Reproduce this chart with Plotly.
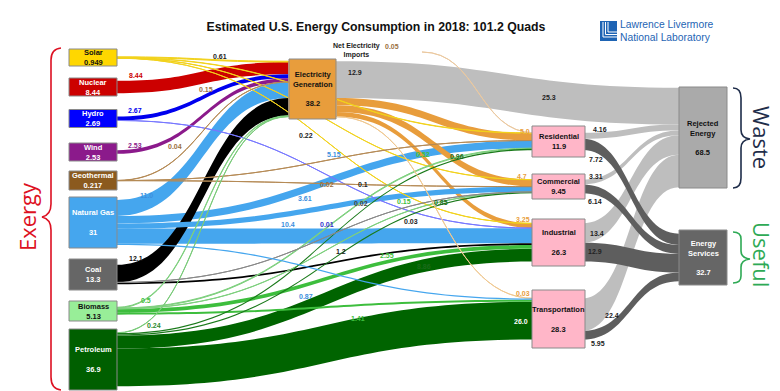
import plotly.graph_objects as go

# ---------------- data ----------------
node_names = ["Solar", "Nuclear", "Hydro", "Wind", "Geothermal", "Natural Gas", "Coal",
              "Biomass", "Petroleum", "Net Electricity Imports", "Electricity Generation",
              "Residential", "Commercial", "Industrial", "Transportation",
              "Rejected Energy", "Energy Services"]
node_totals = ["0.949", "8.44", "2.69", "2.53", "0.217", "31", "13.3", "5.13", "36.9", "0.05",
               "38.2", "11.9", "9.45", "26.3", "28.3", "68.5", "32.7"]

link_source = ["Electricity Generation", "Residential", "Commercial", "Industrial", "Transportation",
               "Residential", "Commercial", "Industrial", "Transportation",
               "Natural Gas", "Natural Gas", "Natural Gas", "Coal", "Petroleum", "Petroleum",
               "Nuclear", "Hydro", "Wind", "Biomass", "Biomass",
               "Electricity Generation", "Electricity Generation", "Electricity Generation",
               "Natural Gas", "Coal",
               "Solar", "Solar", "Solar", "Solar", "Hydro",
               "Geothermal", "Geothermal", "Geothermal",
               "Biomass", "Biomass", "Biomass", "Petroleum", "Petroleum", "Petroleum",
               "Coal", "Electricity Generation", "Net Electricity Imports", "Natural Gas"]
link_target = ["Rejected Energy", "Rejected Energy", "Rejected Energy", "Rejected Energy", "Rejected Energy",
               "Energy Services", "Energy Services", "Energy Services", "Energy Services",
               "Electricity Generation", "Industrial", "Residential", "Electricity Generation",
               "Transportation", "Industrial",
               "Electricity Generation", "Electricity Generation", "Electricity Generation",
               "Industrial", "Transportation",
               "Residential", "Commercial", "Industrial",
               "Commercial", "Industrial",
               "Electricity Generation", "Residential", "Commercial", "Industrial", "Industrial",
               "Electricity Generation", "Residential", "Commercial",
               "Electricity Generation", "Residential", "Commercial",
               "Electricity Generation", "Residential", "Commercial",
               "Commercial", "Transportation", "Residential", "Transportation"]
link_value = [25.3, 4.16, 3.31, 13.4, 22.4,
              7.72, 6.14, 12.9, 5.95,
              11.0, 10.4, 5.15, 12.1, 26.0, 8.86,
              8.44, 2.67, 2.53, 2.55, 1.41,
              5.0, 4.7, 3.25,
              3.61, 1.2,
              0.61, 0.22, 0.1, 0.03, 0.01,
              0.15, 0.04, 0.02,
              0.5, 0.52, 0.15, 0.24, 0.96, 0.85,
              0.02, 0.03, 0.05, 0.87]

# value labels: (text, x_px, y_px, colour)
value_labels = [
    ("0.61", 212, 49, "#222"), ("8.44", 128, 68, "#CC0000"), ("2.67", 127, 103, "#0000EE"),
    ("2.53", 127, 137, "#8B1A8B"), ("0.15", 198, 82, "#9A7040"), ("0.04", 167, 138, "#9A7040"),
    ("11.0", 138, 188, "#3D8FDD"), ("12.1", 128, 250, "#111"), ("0.5", 138, 292, "#3DBE3D"),
    ("0.24", 146, 317, "#2E8B2E"), ("0.05", 384, 38, "#9A7040"), ("12.9", 347, 64, "#222"),
    ("25.3", 541, 89, "#222"), ("0.22", 298, 127, "#222"), ("5.15", 326, 146, "#3D8FDD"),
    ("0.52", 415, 146, "#3DBE3D"), ("0.96", 449, 148, "#1A6B1A"), ("0.02", 319, 176, "#9A7040"),
    ("0.1", 355, 176, "#222"), ("3.61", 297, 190, "#3D8FDD"), ("0.15", 396, 193, "#3DBE3D"),
    ("0.85", 433, 194, "#1A6B1A"), ("0.02", 353, 196, "#444"), ("10.4", 280, 216, "#3D8FDD"),
    ("0.01", 319, 216, "#3333CC"), ("0.03", 403, 213, "#222"), ("1.2", 333, 243, "#222"),
    ("2.55", 379, 247, "#3DBE3D"), ("8.86", 416, 258, "#1A6B1A"), ("0.87", 298, 288, "#3D8FDD"),
    ("1.41", 350, 310, "#3DBE3D"), ("26.0", 513, 313, "#FFFFFF"), ("5.0", 517, 123, "#E89D3C"),
    ("4.7", 514, 169, "#E89D3C"), ("3.25", 515, 211, "#E89D3C"), ("0.03", 515, 285, "#E89D3C"),
    ("4.16", 592, 121, "#222"), ("7.72", 588, 151, "#222"), ("3.31", 588, 168, "#222"),
    ("6.14", 587, 193, "#222"), ("13.4", 589, 225, "#222"), ("12.9", 587, 243, "#222"),
    ("22.4", 604, 307, "#222"), ("5.95", 590, 335, "#222"),
]

# ---------------- layout / style ----------------
W, H = 780, 391
ML, MR, MT, MB = 61, 61, 38, 8
PW, PH = W - ML - MR, H - MT - MB

# node box centres and sizes in pixels (layout, not data)
node_box = {
    "Solar": (85, 49.5, 48, 17), "Nuclear": (85, 79, 48, 18), "Hydro": (85, 110.5, 48, 18),
    "Wind": (85, 144, 48, 18), "Geothermal": (85, 172.5, 48, 19), "Natural Gas": (85, 214.5, 48, 51),
    "Coal": (85, 266.5, 48, 31), "Biomass": (85, 303, 48, 20), "Petroleum": (85, 351.5, 48, 61),
    "Net Electricity Imports": (390, 44, 0, 0), "Electricity Generation": (304.5, 81, 47, 60),
    "Residential": (550.5, 133.5, 53, 31), "Commercial": (550.5, 178.5, 53, 25),
    "Industrial": (550.5, 234.5, 53, 47), "Transportation": (550.5, 311, 53, 58),
    "Rejected Energy": (695, 129.5, 48, 101), "Energy Services": (695, 249.5, 48, 55),
}
node_fill = {
    "Solar": "#FFD700", "Nuclear": "#CC0000", "Hydro": "#0000FF", "Wind": "#8B1A8B",
    "Geothermal": "#8B5A1E", "Natural Gas": "#45A6EE", "Coal": "#666666", "Biomass": "#98EE98",
    "Petroleum": "#005F00", "Net Electricity Imports": "rgba(0,0,0,0)",
    "Electricity Generation": "#E89D3C", "Residential": "#FFB6C8", "Commercial": "#FFB6C8",
    "Industrial": "#FFB6C8", "Transportation": "#FFB6C8", "Rejected Energy": "#AAAAAA",
    "Energy Services": "#666666",
}
node_text_col = {
    "Solar": "#111", "Biomass": "#111", "Electricity Generation": "#111", "Residential": "#111",
    "Commercial": "#111", "Industrial": "#111", "Transportation": "#111", "Rejected Energy": "#111",
}
node_text = {
    "Natural Gas": "<b>Natural Gas</b><br><br><b>31</b>",
    "Electricity Generation": "<b>Electricity<br>Generation</b><br><br><b>38.2</b>",
    "Rejected Energy": "<b>Rejected<br>Energy</b><br><br><b>68.5</b>",
    "Energy Services": "<b>Energy<br>Services</b><br><br><b>32.7</b>",
    "Petroleum": "<b>Petroleum</b><br><br><b>36.9</b>",
    "Industrial": "<b>Industrial</b><br><br><b>26.3</b>",
    "Transportation": "<b>Transportation</b><br><br><b>28.3</b>",
}

def link_colour(s, t, v):
    if t == "Rejected Energy":
        return "#BEBEBE"
    if t == "Energy Services":
        return "#5E5E5E"
    base = {"Solar": "#F2D21B", "Nuclear": "#CC0000", "Hydro": "#0000EE", "Wind": "#8B1A8B",
            "Geothermal": "#B58A55", "Natural Gas": "#45A6EE", "Coal": "#000000",
            "Biomass": "#3DBE3D", "Petroleum": "#006400", "Net Electricity Imports": "#EBC9A0",
            "Electricity Generation": "#E89D3C"}[s]
    if s == "Hydro" and v < 0.1:
        return "#7777FF"
    if s == "Coal" and v < 0.1:
        return "#888888"
    if s == "Biomass" and v < 1:
        return "#7ED07E"
    if s == "Petroleum" and v < 0.5:
        return "#7ACB7A"
    if s == "Petroleum" and v < 1:
        return "#1A7A1A"
    if s == "Electricity Generation" and v < 0.1:
        return "#F0C890"
    return base

def px2paper(x, y):
    return (x - ML) / PW, 1 - (y - MT) / PH

idx = {n: i for i, n in enumerate(node_names)}
node_x = [(node_box[n][0] - ML) / PW for n in node_names]
node_y = [(node_box[n][1] - MT) / PH for n in node_names]

colors_link = [link_colour(s, t, v) for s, t, v in zip(link_source, link_target, link_value)]

fig = go.Figure(go.Sankey(
    arrangement="fixed",
    domain=dict(x=[0, 1], y=[0, 1]),
    node=dict(label=node_names, x=node_x, y=node_y, pad=22, thickness=48,
              color=[node_fill[n] for n in node_names],
              line=dict(color="rgba(0,0,0,0)", width=0)),
    link=dict(source=[idx[s] for s in link_source], target=[idx[t] for t in link_target],
              value=link_value, color=colors_link,
              line=dict(width=0)),
    textfont=dict(color="rgba(0,0,0,0)", size=1),
    hoverinfo="none",
))

ann = []
shapes = []
FONT = "Liberation Sans, Arial, sans-serif"
for i, n in enumerate(node_names):
    cx, cy, w, h = node_box[n]
    if w == 0:
        continue
    txt = node_text.get(n, f"<b>{n}</b><br><b>{node_totals[i]}</b>")
    x0, y0 = px2paper(cx - w / 2, cy - h / 2)
    x1, y1 = px2paper(cx + w / 2, cy + h / 2)
    shapes.append(dict(type="rect", xref="paper", yref="paper", x0=x0, x1=x1, y0=y1, y1=y0,
                       fillcolor=node_fill[n], line=dict(color="#8A8A8A", width=1), layer="above"))
    ax, ay = px2paper(cx, cy)
    ann.append(dict(x=ax, y=ay, xref="paper", yref="paper", text=txt, showarrow=False,
                    xanchor="center", yanchor="middle", align="center",
                    font=dict(family=FONT, size=7.5, color=node_text_col.get(n, "#FFFFFF"))))

ax, ay = px2paper(348, 42)
ann.append(dict(x=ax, y=ay, xref="paper", yref="paper", showarrow=False,
                text="<b>Net Electricity<br>Imports</b>", font=dict(family=FONT, size=7, color="#222"),
                xanchor="center", yanchor="middle"))

for t, x, y, c in value_labels:
    ax, ay = px2paper(x, y)
    ann.append(dict(x=ax, y=ay, xref="paper", yref="paper", text=f"<b>{t}</b>", showarrow=False,
                    xanchor="center", yanchor="middle", font=dict(family=FONT, size=7, color=c)))

# side words
ax, ay = px2paper(19, 209)
ann.append(dict(x=ax, y=ay, xref="paper", yref="paper", text="Exergy", textangle=-90, showarrow=False,
                xanchor="center", yanchor="middle",
                font=dict(family="Open Sans, sans-serif", size=22, color="#DD1122")))
ax, ay = px2paper(754, 130)
ann.append(dict(x=ax, y=ay, xref="paper", yref="paper", text="Waste", textangle=90, showarrow=False,
                xanchor="center", yanchor="middle",
                font=dict(family="Open Sans, sans-serif", size=22, color="#1F2D4A")))
ax, ay = px2paper(754, 247)
ann.append(dict(x=ax, y=ay, xref="paper", yref="paper", text="Useful", textangle=90, showarrow=False,
                xanchor="center", yanchor="middle",
                font=dict(family="Open Sans, sans-serif", size=22, color="#2EAA55")))

# logo text
ax, ay = px2paper(610, 23)
ann.append(dict(x=ax, y=ay, xref="paper", yref="paper", xanchor="left", yanchor="middle",
                text="Lawrence Livermore<br>National Laboratory", showarrow=False, align="left",
                font=dict(family="Liberation Sans, Arial, sans-serif", size=10.3, color="#1E64B4")))

def path(points_cmds):
    out = []
    for cmd, pts in points_cmds:
        coords = " ".join("%.5f,%.5f" % px2paper(x, y) for x, y in pts)
        out.append(cmd + " " + coords)
    return " ".join(out)

# braces
exergy = path([("M", [(53, 40)]), ("Q", [(43, 41), (43, 52)]), ("L", [(43, 196)]),
               ("Q", [(43, 207), (34, 209)]), ("Q", [(43, 211), (43, 222)]), ("L", [(43, 369)]),
               ("Q", [(43, 381), (53, 382)])])
shapes.append(dict(type="path", xref="paper", yref="paper", path=exergy,
                   line=dict(color="#DD1122", width=1.6)))
waste = path([("M", [(725, 80)]), ("Q", [(733, 80), (733, 90)]), ("L", [(733, 122)]),
              ("Q", [(733, 130), (742, 131)]), ("Q", [(733, 132), (733, 140)]), ("L", [(733, 170)]),
              ("Q", [(733, 180), (725, 180)])])
shapes.append(dict(type="path", xref="paper", yref="paper", path=waste,
                   line=dict(color="#1F2D4A", width=1.6)))
useful = path([("M", [(725, 224)]), ("Q", [(733, 224), (733, 231)]), ("L", [(733, 243)]),
               ("Q", [(733, 250), (742, 251)]), ("Q", [(733, 252), (733, 259)]), ("L", [(733, 268)]),
               ("Q", [(733, 275), (725, 275)])])
shapes.append(dict(type="path", xref="paper", yref="paper", path=useful,
                   line=dict(color="#2EAA55", width=1.6)))

# logo icon
lx0, ly0 = px2paper(592, 13)
lx1, ly1 = px2paper(609, 33)
shapes.append(dict(type="rect", xref="paper", yref="paper", x0=lx0, x1=lx1, y0=ly1, y1=ly0,
                   fillcolor="#1E64B4", line=dict(width=0)))
for k in range(3):
    icon = path([("M", [(595 + 2.5 * k, 14)]), ("L", [(595 + 2.5 * k, 29 - 2.5 * k)]),
                 ("L", [(609, 29 - 2.5 * k)])])
    shapes.append(dict(type="path", xref="paper", yref="paper", path=icon,
                       line=dict(color="#FFFFFF", width=1)))

fig.update_layout(
    width=W, height=H,
    margin=dict(l=ML, r=MR, t=MT, b=MB),
    paper_bgcolor="white", plot_bgcolor="white",
    title=dict(text="<b>Estimated U.S. Energy Consumption in 2018: 101.2 Quads</b>",
               x=368 / W, y=1 - 19 / H, xref="container", yref="container",
               xanchor="center", yanchor="middle",
               font=dict(family=FONT, size=12.3, color="#111")),
    annotations=ann, shapes=shapes, showlegend=False,
)

fig.write_html("out.html")
